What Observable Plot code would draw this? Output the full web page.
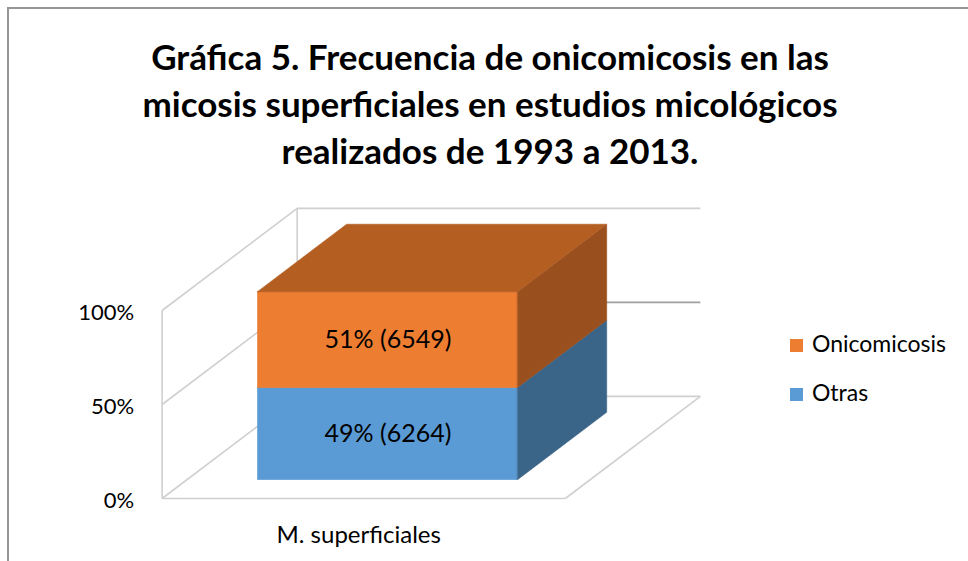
<!DOCTYPE html>
<html><head><meta charset="utf-8">
<script src="https://cdn.jsdelivr.net/npm/d3@7"></script>
<script src="https://cdn.jsdelivr.net/npm/@observablehq/plot@0.6"></script>
<style>
html,body{margin:0;padding:0;background:#fff;}
#wrap{position:relative;width:968px;height:561px;overflow:hidden;font-family:Lato,sans-serif;color:#000;}
#frame{position:absolute;left:7px;top:7px;width:2000px;height:2000px;border-left:2px solid #969696;border-top:2px solid #969696;}
#title{position:absolute;left:0;top:33px;width:980px;text-align:center;font-weight:bold;font-size:35px;line-height:47px;}
#chart{position:absolute;left:0;top:190px;}
#legend{position:absolute;left:790px;top:319px;font-size:23px;line-height:49px;}
#legend .sw{display:inline-block;width:13px;height:13px;margin-right:9px;vertical-align:0px;}
</style>
</head><body>
<div id="wrap">
  <div id="frame"></div>
  <div id="title"></div>
  <div id="chart"></div>
  <div id="legend"></div>
</div>
<script>
// ---- data ----
const titleLines = ["Gráfica 5. Frecuencia de onicomicosis en las", "micosis superficiales en estudios micológicos", "realizados de 1993 a 2013."];
const categories = ["M. superficiales"];
const series = ["Otras", "Onicomicosis"];
const percents = [49, 51];
const counts = [6264, 6549];
const yTicks = [0, 50, 100];
const yTickLabels = ["0%", "50%", "100%"];
const frontColors = ["#5b9bd5", "#ed7d31"];
const topColors = ["#3f6f9a", "#b45e22"];
const sideColors = ["#3b6588", "#9a4f1e"];

// ---- 3D projection parameters (style) ----
const DX = 0.335, DY = 54.3;      // offset for full depth, in x units / y (%) units
const dFront = 0.18, dBack = 0.84; // bar depth span
const barW = 0.645;                // bar width as fraction of category band
const P = (x, y, d) => [x + d * DX, y + d * DY];

document.getElementById("title").innerHTML = titleLines.map(t => `<div>${t}</div>`).join("");

// stacked segments
let acc = 0;
const segs = series.map((s, i) => {
  const s0 = acc; acc += percents[i];
  return {series: s, i, y0: s0, y1: acc, pct: percents[i], count: counts[i]};
});
const xl = 0.5 - barW / 2, xr = 0.5 + barW / 2;
const yMax = d3.max(yTicks);

// grid lines
const grid = [];
const link = (a, b, stroke) => grid.push({x1: a[0], y1: a[1], x2: b[0], y2: b[1], stroke});
const light = "#d0d0d0";
yTicks.forEach(t => link(P(0, t, 0), P(0, t, 1), light));                     // left wall
yTicks.forEach(t => link(P(0, t, 1), P(1, t, 1), t === 50 ? "#a0a0a0" : light)); // back wall
link(P(0, 0, 0), P(0, yMax, 0), light);
link(P(0, 0, 1), P(0, yMax, 1), light);
link(P(0, 0, 0), P(1, 0, 0), light);   // floor front
link(P(1, 0, 0), P(1, 0, 1), light);   // floor right

// faces
const front = segs.map(s => {
  const a = P(xl, s.y0, dFront), b = P(xr, s.y1, dFront);
  return {x1: a[0], x2: b[0], y1: a[1], y2: b[1], fill: frontColors[s.i], series: s.series};
});
const sides = segs.flatMap(s => {
  const f0 = P(xr, s.y0, dFront), f1 = P(xr, s.y1, dFront);
  const b0 = P(xr, s.y0, dBack), b1 = P(xr, s.y1, dBack);
  return [{x: f0[0], y1: f0[1], y2: f1[1], series: s.series, fill: sideColors[s.i]},
          {x: b0[0], y1: b0[1], y2: b1[1], series: s.series, fill: sideColors[s.i]}];
});
const topSeg = segs[segs.length - 1];
const topFace = [dFront, dBack].map(d => {
  const a = P(xl, topSeg.y1, d), b = P(xr, topSeg.y1, d);
  return {y: a[1], x1: a[0], x2: b[0]};
});
const labels = segs.map(s => {
  const c = P(0.5, (s.y0 + s.y1) / 2, dFront);
  return {x: c[0], y: c[1], text: `${s.pct}% (${s.count})`};
});
const ticks = yTicks.map((t, i) => ({x: 0, y: t, text: yTickLabels[i]}));
const cats = categories.map(c => ({x: 0.5, y: 0, text: c}));

const chart = Plot.plot({
  width: 968, height: 371, margin: 0,
  x: {domain: [0, 1], range: [161.6, 564.8], axis: null},
  y: {domain: [0, 100], range: [308, 120], axis: null},
  color: {type: "identity"},
  style: {fontFamily: "Lato, sans-serif", fontSize: "21px", overflow: "visible", background: "transparent"},
  marks: [
    Plot.link(grid, {x1: "x1", y1: "y1", x2: "x2", y2: "y2", stroke: "stroke", strokeWidth: 1.6}),
    Plot.rect(front, {x1: "x1", x2: "x2", y1: "y1", y2: "y2", fill: "fill", stroke: "fill", strokeWidth: 0.6}),
    Plot.areaY(sides, {x: "x", y1: "y1", y2: "y2", z: "series", fill: "fill", stroke: "fill", strokeWidth: 0.6, curve: "linear"}),
    Plot.areaX(topFace, {y: "y", x1: "x1", x2: "x2", fill: topColors[topSeg.i], stroke: topColors[topSeg.i], strokeWidth: 0.6, curve: "linear"}),
    Plot.text(labels, {x: "x", y: "y", text: "text", fontSize: 25, fill: "#000"}),
    Plot.text(ticks, {x: "x", y: "y", text: "text", textAnchor: "end", dx: -28, dy: 2, fontSize: 22, fill: "#000"}),
    Plot.text(cats, {x: "x", y: "y", text: "text", dx: -5, dy: 37, fontSize: 24, fill: "#000"})
  ]
});
document.getElementById("chart").appendChild(chart);

// legend (reverse stack order, as in the reference)
document.getElementById("legend").innerHTML = series.map((s, i) => ({s, c: frontColors[i]})).reverse()
  .map(d => `<div><span class="sw" style="background:${d.c}"></span>${d.s}</div>`).join("");
</script>
</body></html>
